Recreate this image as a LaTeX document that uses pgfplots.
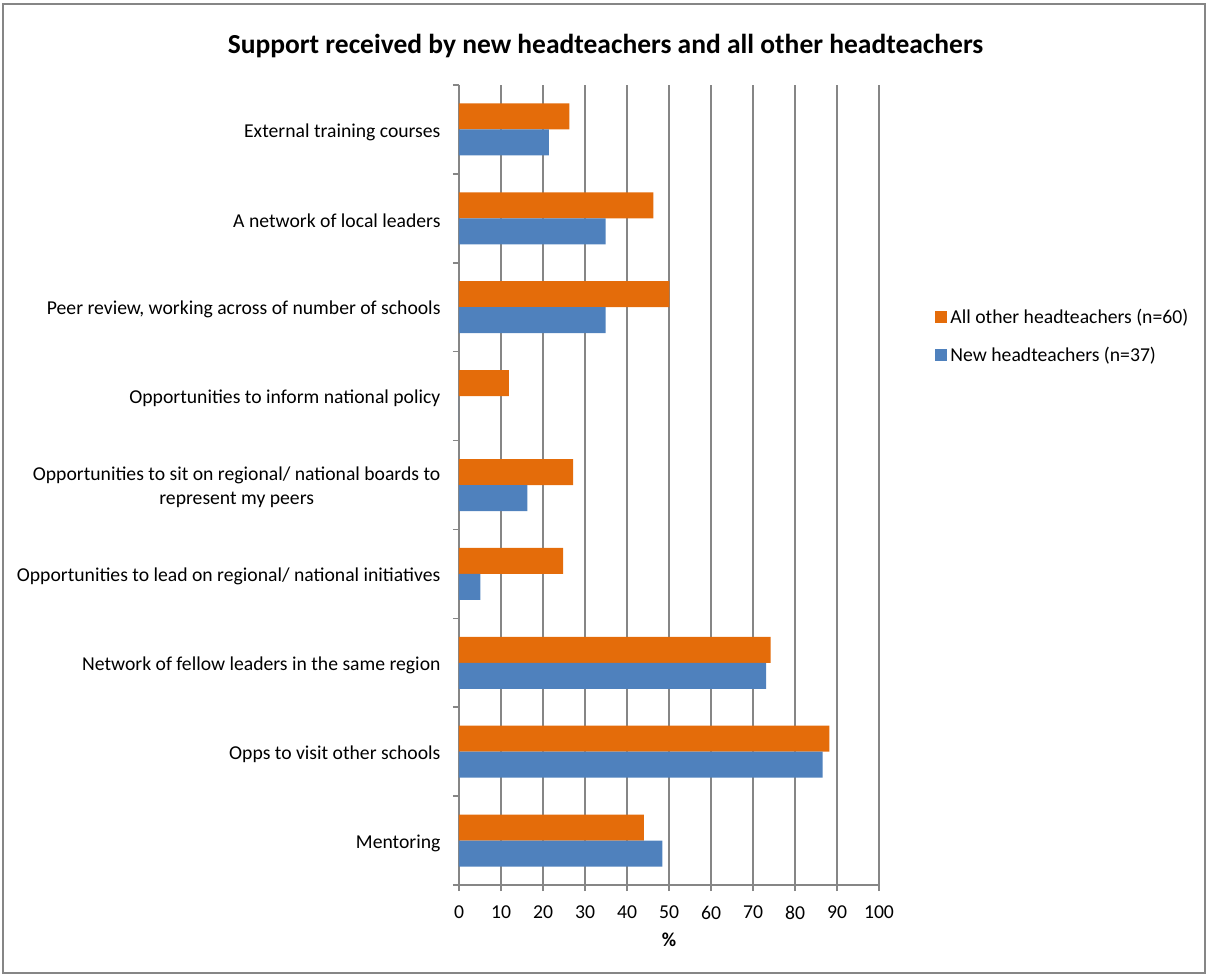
\documentclass[border=0pt]{standalone}
\usepackage{fontspec}
\setmainfont{Carlito}
\usepackage{pgfplots}
\pgfplotsset{compat=1.18}
\definecolor{orng}{RGB}{228,108,10}
\definecolor{blu}{RGB}{79,129,189}
\definecolor{gridc}{RGB}{134,134,134}
\begin{document}
\begin{tikzpicture}
\useasboundingbox (-275.4pt,-55.2pt) rectangle (448.8pt,531pt);
\draw[gridc, line width=0.9pt] (-273.6pt,-52.8pt) rectangle (447.6pt,528.6pt);
\begin{axis}[
  at={(0,0)}, anchor=south west,
  scale only axis, width=252pt, height=480pt,
  xmin=0, xmax=100, ymin=-0.5, ymax=8.5,
  xbar, bar width=15.6pt,
  axis lines*=left,
  axis line style={gridc, line width=0.9pt},
  xtick={0,10,...,100},
  xmajorgrids, grid style={gridc, line width=0.9pt},
  tick align=outside, major tick length=3.6pt,
  tick style={gridc, line width=0.9pt},
  ytick={-0.5,0.5,...,8.5},
  y tick label as interval,
  yticklabels={Mentoring, Opps to visit other schools, Network of fellow leaders in the same region, Opportunities to lead on regional/ national initiatives, {Opportunities to sit on regional/ national boards to\\represent my peers}, Opportunities to inform national policy, {Peer review, working across of number of schools}, A network of local leaders, External training courses},
  y tick label style={align=center, font=\fontsize{11.8}{14.4}\selectfont, xshift=-4pt, yshift=-1.5pt},
  x tick label style={font=\fontsize{11.8}{14}\selectfont, yshift=-5.5pt},
  /pgf/number format/assume math mode=true,
  xlabel={\textbf{\%}},
  xlabel style={font=\fontsize{11.8}{14}\selectfont, at={(axis description cs:0.5,-0.069)}, anchor=center},
  title={Support received by new headteachers and all other headteachers},
  title style={font=\fontsize{16.5}{19}\selectfont\bfseries, at={(axis description cs:0.349,1.036)}, anchor=center, yshift=0pt},
  legend style={at={(axis description cs:1.121,0.686)}, anchor=west, draw=none, fill=none, font=\fontsize{11.8}{14}\selectfont, row sep=8.5pt},
  legend cell align=left,
  legend image code/.code={\fill[#1] (0pt,-3.6pt) rectangle (7.2pt,3.6pt);},
]
\addplot[fill=orng, draw=none, bar shift=7.8pt] coordinates {
  (44.0,0) (88.2,1) (74.2,2) (24.8,3) (27.2,4) (11.9,5) (50.1,6) (46.3,7) (26.3,8)};
\addlegendentry{All other headteachers (n=60)}
\addplot[fill=blu, draw=none, bar shift=-7.8pt] coordinates {
  (48.4,0) (86.6,1) (73.1,2) (5.1,3) (16.3,4) (0,5) (34.9,6) (34.9,7) (21.4,8)};
\addlegendentry{New headteachers (n=37)}
\end{axis}
\end{tikzpicture}
\end{document}
